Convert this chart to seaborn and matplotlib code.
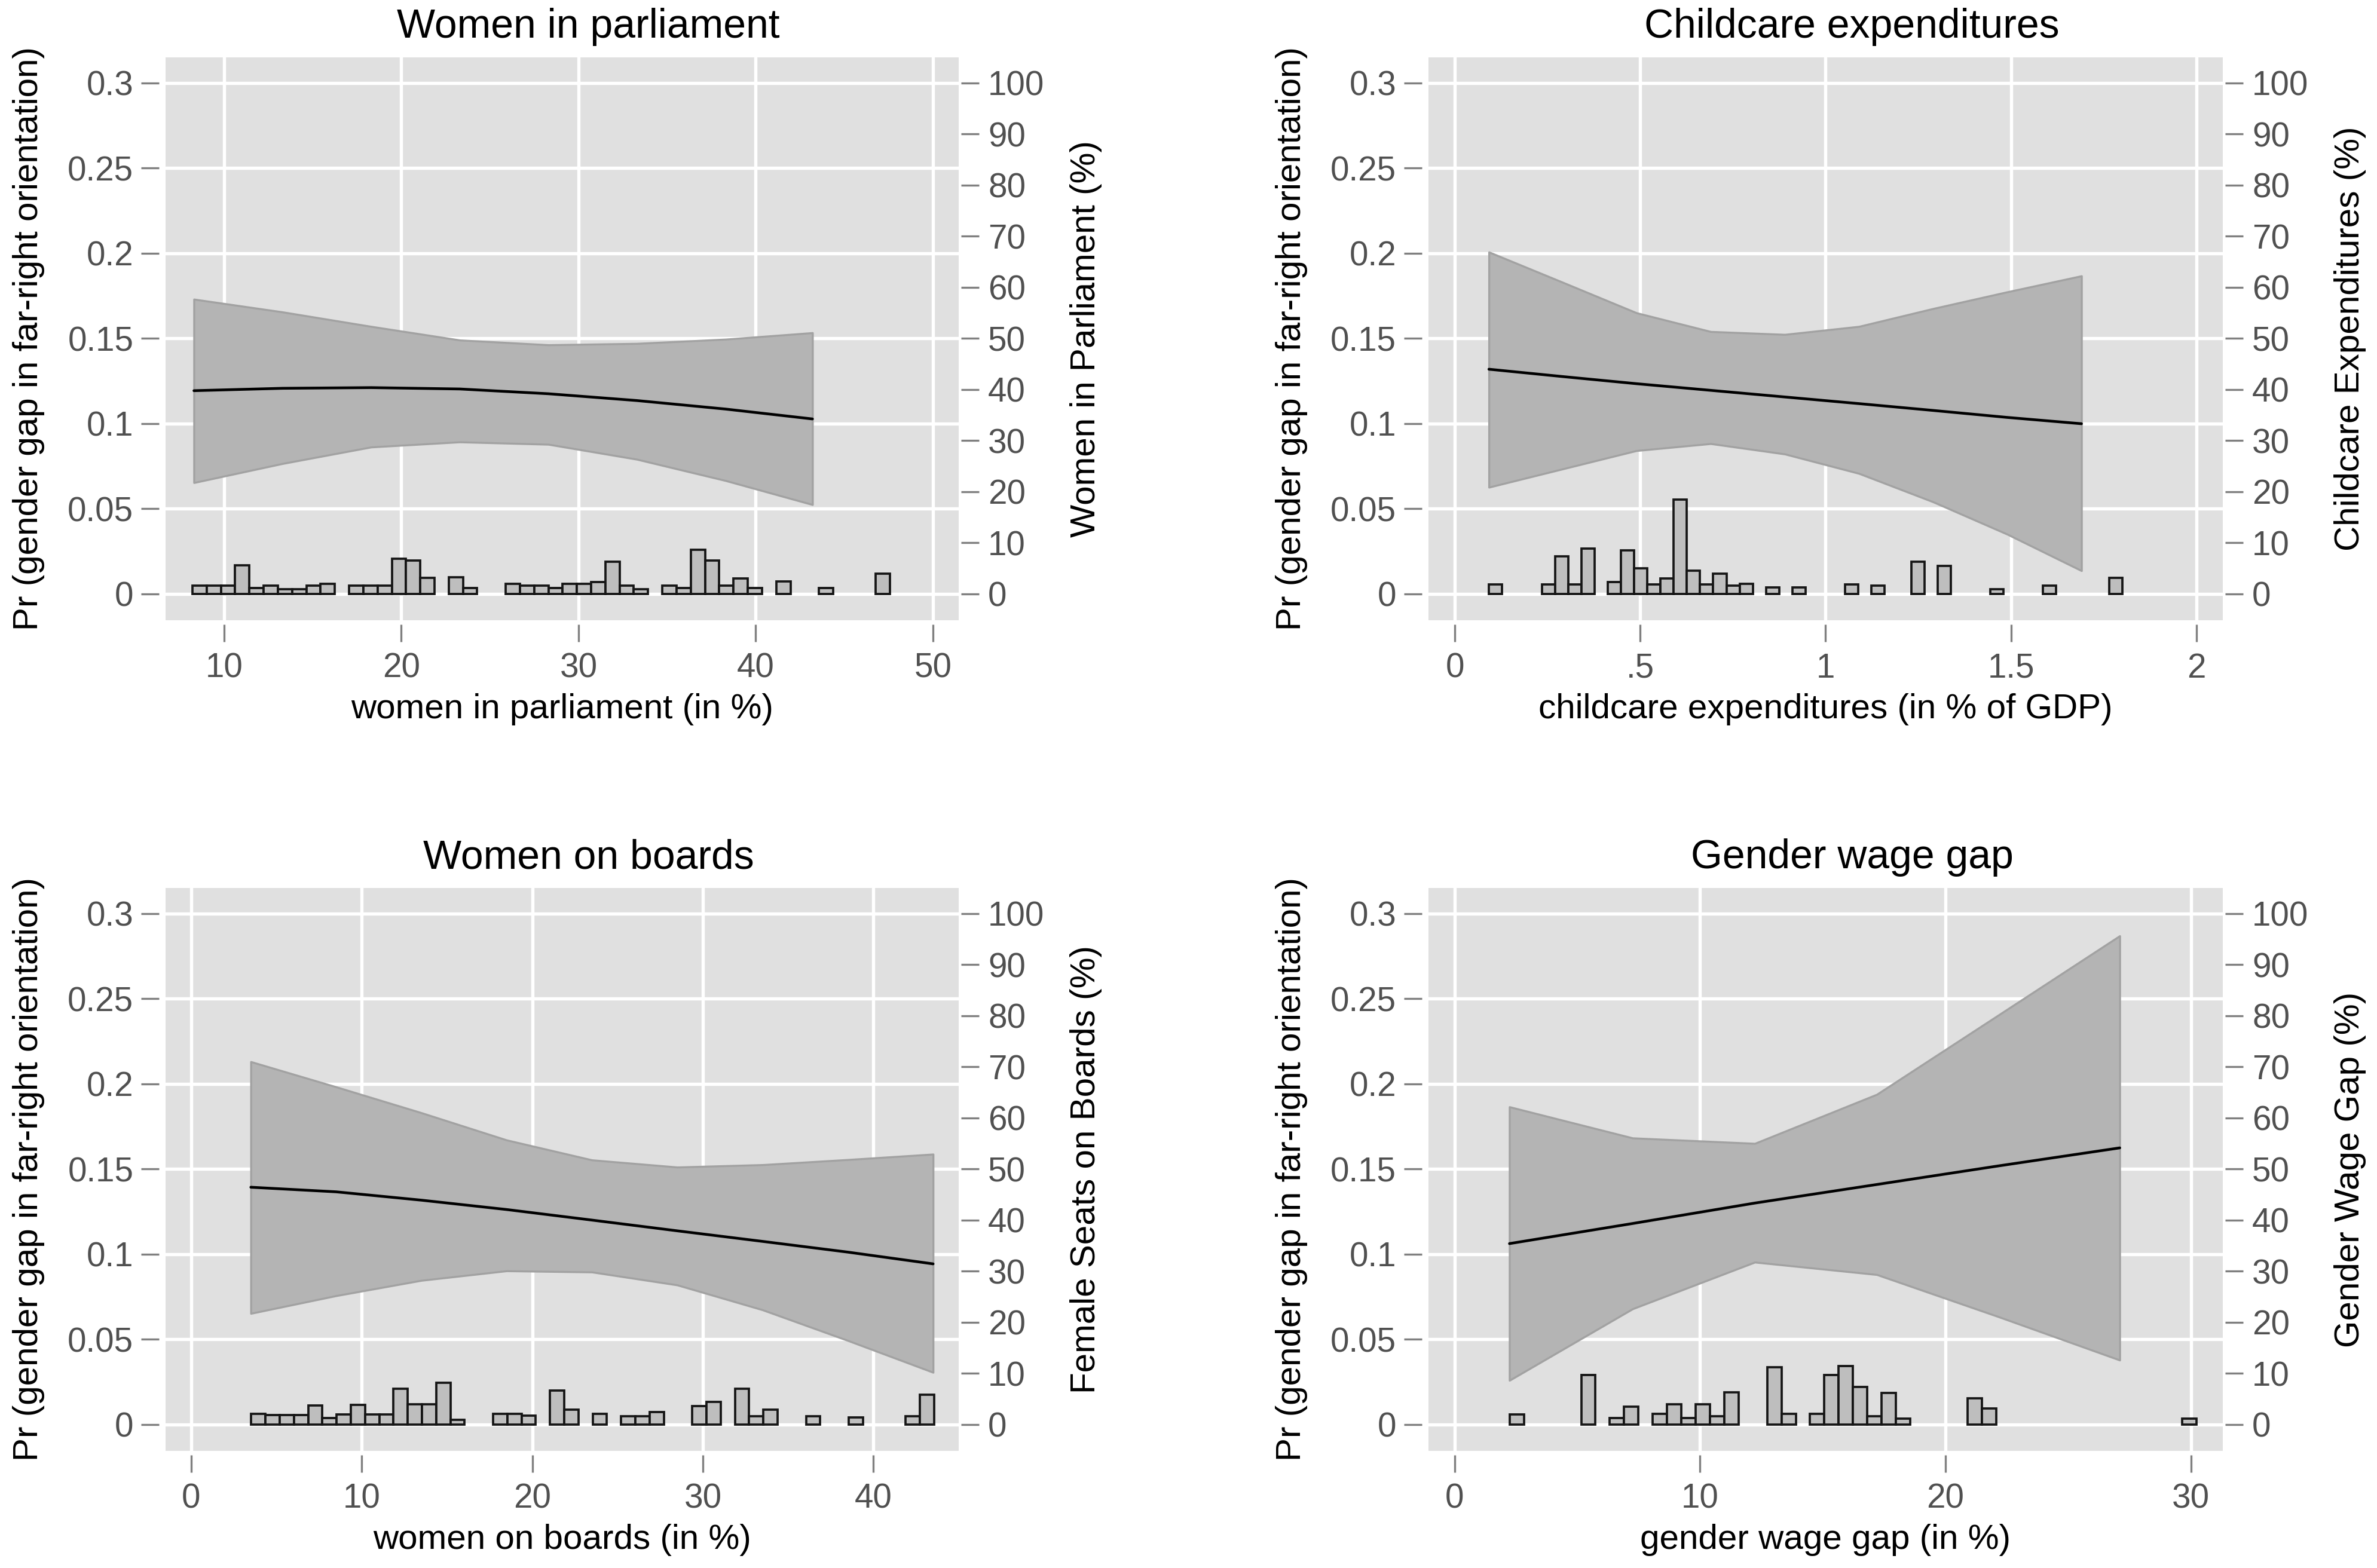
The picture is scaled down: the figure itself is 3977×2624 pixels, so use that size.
import matplotlib
matplotlib.use("Agg")
import matplotlib.pyplot as plt
import seaborn as sns

sns.set_style("white")
plt.rcParams['font.family'] = ['Liberation Sans', 'DejaVu Sans']

# ---------------- data ----------------
# women in parliament
parl_x = [8.3, 13.3, 18.3, 23.3, 28.3, 33.3, 38.3, 43.2]
parl_fit = [0.1193, 0.1207, 0.1211, 0.1203, 0.1175, 0.1135, 0.1085, 0.1027]
parl_lo = [0.0653, 0.0765, 0.0862, 0.0892, 0.0878, 0.0790, 0.0665, 0.0524]
parl_hi = [0.1730, 0.1655, 0.1570, 0.1490, 0.1462, 0.1470, 0.1495, 0.1533]
parl_bins = [8.62, 9.42, 10.23, 11.02, 11.83, 12.61, 13.43, 14.21, 15.02, 15.81,
             17.43, 18.24, 19.06, 19.87, 20.68, 21.5, 23.09, 23.88,
             26.3, 27.1, 27.92, 28.72, 29.53, 30.33, 31.13, 31.94, 32.76, 33.56,
             35.17, 35.98, 36.79, 37.6, 38.42, 39.22, 40.01, 41.55, 43.96, 47.18]
parl_pct = [1.56, 1.56, 1.56, 5.6, 1.17, 1.56, 0.86, 0.86, 1.56, 2.0,
            1.56, 1.56, 1.56, 6.9, 6.5, 3.1, 3.2, 1.17,
            1.95, 1.56, 1.56, 1.17, 1.95, 1.95, 2.34, 6.25, 1.56, 0.86,
            1.56, 1.17, 8.67, 6.5, 1.56, 3.0, 1.17, 2.4, 1.17, 3.9]
parl_bw = 0.803

# childcare expenditures
child_x = [0.092, 0.29, 0.49, 0.69, 0.89, 1.09, 1.29, 1.49, 1.69]
child_fit = [0.1319, 0.1276, 0.1234, 0.1195, 0.1156, 0.1117, 0.1077, 0.1036, 0.0999]
child_lo = [0.0626, 0.0733, 0.0841, 0.0882, 0.0821, 0.0707, 0.0540, 0.0350, 0.0136]
child_hi = [0.2007, 0.1830, 0.1650, 0.1540, 0.1523, 0.1570, 0.1675, 0.1773, 0.1867]
child_bins = [0.110, 0.252, 0.288, 0.322, 0.357, 0.429, 0.464, 0.499, 0.535, 0.571,
              0.607, 0.644, 0.679, 0.714, 0.748, 0.784, 0.856, 0.929, 1.070, 1.141,
              1.248, 1.318, 1.460, 1.601, 1.782]
child_pct = [1.9, 1.9, 7.3, 1.9, 8.86, 2.34, 8.47, 4.96, 1.9, 3.0,
             18.4, 4.57, 1.9, 3.9, 1.56, 1.95, 1.25, 1.25, 1.9, 1.56,
             6.25, 5.46, 0.86, 1.56, 3.1]
child_bw = 0.03555

# women on boards
boards_x = [3.5, 8.5, 13.5, 18.5, 23.5, 28.5, 33.5, 38.5, 43.5]
boards_fit = [0.1393, 0.1366, 0.1317, 0.1262, 0.1200, 0.1137, 0.1075, 0.1012, 0.0943]
boards_lo = [0.0652, 0.0756, 0.0846, 0.0902, 0.0895, 0.0819, 0.0673, 0.0493, 0.0306]
boards_hi = [0.2130, 0.1982, 0.1830, 0.1670, 0.1553, 0.1511, 0.1525, 0.1555, 0.1587]
boards_bins = [3.94, 4.77, 5.6, 6.44, 7.28, 8.11, 8.94, 9.79, 10.62, 11.45,
               12.3, 13.11, 13.96, 14.8, 15.62, 18.1, 18.94, 19.79, 21.45, 22.28,
               23.96, 25.62, 26.47, 27.28, 29.79, 30.63, 32.3, 33.14, 33.96, 36.47,
               38.97, 42.3, 43.14]
boards_pct = [2.03, 1.83, 1.83, 1.83, 3.67, 1.25, 1.95, 3.79, 1.95, 1.95,
              7.03, 3.9, 3.9, 8.2, 0.94, 2.03, 2.03, 1.72, 6.7, 2.9,
              2.03, 1.64, 1.64, 2.42, 3.6, 4.37, 7.03, 1.56, 2.9, 1.64,
              1.33, 1.64, 5.85]
boards_bw = 0.834

# gender wage gap
wage_x = [2.23, 7.25, 12.23, 17.2, 22.15, 27.1]
wage_fit = [0.1062, 0.1180, 0.1300, 0.1409, 0.1518, 0.1624]
wage_lo = [0.0259, 0.0679, 0.0953, 0.0880, 0.0633, 0.0378]
wage_hi = [0.1865, 0.1682, 0.1650, 0.1938, 0.2403, 0.2869]
wage_bins = [2.53, 5.46, 6.6, 7.18, 8.35, 8.94, 9.53, 10.12, 10.7, 11.29,
             13.01, 13.6, 14.73, 15.32, 15.91, 16.5, 17.08, 17.67, 18.26,
             21.2, 21.76, 29.93]
wage_pct = [1.95, 9.68, 1.25, 3.43, 2.03, 3.9, 1.25, 3.9, 1.64, 6.32,
            11.24, 2.03, 2.03, 9.68, 11.4, 7.34, 1.56, 6.17, 1.17,
            5.15, 3.12, 1.17]
wage_bw = 0.583

y_ticks = [0, 0.05, 0.1, 0.15, 0.2, 0.25, 0.3]
y_ticklabels = ['0', '0.05', '0.1', '0.15', '0.2', '0.25', '0.3']
pct_ticks = list(range(0, 101, 10))

# ---------------- figure ----------------
W, H, DPI = 3977, 2624, 300
fig = plt.figure(figsize=(W / DPI, H / DPI), dpi=DPI)

BG = '#e0e0e0'
TICKCOL = '#808080'
LABCOL = '#505050'
YLIM = (-0.0155, 0.315)


def draw_panel(box, xlim, xticks, xticklabels, title, xlabel, rlabel,
               x, fit, lo, hi, bins, pct, bw):
    l, t, r, b = box
    ax = fig.add_axes([l / W, 1 - b / H, (r - l) / W, (b - t) / H])
    ax.set_facecolor(BG)
    ax.grid(True, color='white', lw=1.3)
    ax.set_axisbelow(True)
    for s in ax.spines.values():
        s.set_visible(False)
    ax.spines['left'].set_position(('outward', 2.6))
    ax.spines['bottom'].set_position(('outward', 1.7))

    # confidence band + fitted line
    ax.fill_between(x, lo, hi, color='#b4b4b4', edgecolor='#a2a2a2', lw=0.8, zorder=2)
    sns.lineplot(x=x, y=fit, ax=ax, color='black', lw=1.1, zorder=3)

    ax.set_xlim(*xlim)
    ax.set_ylim(*YLIM)
    ax.set_xticks(xticks)
    ax.set_xticklabels(xticklabels)
    ax.set_yticks(y_ticks)
    ax.set_yticklabels(y_ticklabels)
    ax.tick_params(axis='y', direction='out', length=7.2, width=0.8, color=TICKCOL,
                   pad=3.1, labelsize=13.6, labelcolor=LABCOL, left=True)
    ax.tick_params(axis='x', direction='out', length=7.0, width=0.8, color=TICKCOL,
                   pad=4.2, labelsize=13.6, labelcolor=LABCOL, bottom=True)
    ax.set(xlabel='', ylabel='')

    # histogram of the moderator on the right axis
    ax2 = ax.twinx()
    sns.histplot(x=bins, weights=pct, binwidth=bw,
                 binrange=(bins[0] - bw / 2, bins[-1] + bw / 2),
                 ax=ax2, color='#bebebe', edgecolor='#151515', linewidth=0.9,
                 alpha=1, zorder=4)
    # empty bins would otherwise leave an outline along the baseline
    for p in ax2.patches:
        if p.get_height() <= 0:
            p.set_visible(False)
    for s in ax2.spines.values():
        s.set_visible(False)
    ax2.spines['right'].set_position(('outward', 1.0))
    ax2.set_ylim(YLIM[0] / 0.3 * 100, YLIM[1] / 0.3 * 100)
    ax2.set_yticks(pct_ticks)
    ax2.tick_params(axis='y', direction='out', length=7.2, width=0.8, color=TICKCOL,
                    pad=3.6, labelsize=13.6, labelcolor=LABCOL, right=True)
    ax2.set(xlabel='', ylabel='')
    ax2.set_xlim(*xlim)
    ax2.grid(False)

    cx = (l + r) / 2
    cy = (t + b) / 2
    fig.text((cx + 44) / W, 1 - (t - 33) / H, title, ha='center', va='baseline',
             fontsize=16.3, color='black')
    fig.text(cx / W, 1 - (b + 149) / H, xlabel, ha='center', va='center',
             fontsize=14, color='black')
    fig.text((l - 229) / W, 1 - cy / H, 'Pr (gender gap in far-right orientation)',
             rotation=90, ha='center', va='center', fontsize=14, color='black')
    fig.text((r + 213) / W, 1 - cy / H, rlabel, rotation=90,
             ha='center', va='center', fontsize=14, color='black')


draw_panel((277, 96, 1604, 1038), (6.7, 51.45), [10, 20, 30, 40, 50],
           ['10', '20', '30', '40', '50'], 'Women in parliament',
           'women in parliament (in %)', 'Women in Parliament (%)',
           parl_x, parl_fit, parl_lo, parl_hi, parl_bins, parl_pct, parl_bw)

draw_panel((2390, 96, 3719, 1038), (-0.071, 2.071), [0, 0.5, 1, 1.5, 2],
           ['0', '.5', '1', '1.5', '2'], 'Childcare expenditures',
           'childcare expenditures (in % of GDP)', 'Childcare Expenditures (%)',
           child_x, child_fit, child_lo, child_hi, child_bins, child_pct, child_bw)

draw_panel((277, 1486, 1604, 2428), (-1.5, 45.0), [0, 10, 20, 30, 40],
           ['0', '10', '20', '30', '40'], 'Women on boards',
           'women on boards (in %)', 'Female Seats on Boards (%)',
           boards_x, boards_fit, boards_lo, boards_hi, boards_bins, boards_pct, boards_bw)

draw_panel((2390, 1486, 3719, 2428), (-1.07, 31.3), [0, 10, 20, 30],
           ['0', '10', '20', '30'], 'Gender wage gap',
           'gender wage gap (in %)', 'Gender Wage Gap (%)',
           wage_x, wage_fit, wage_lo, wage_hi, wage_bins, wage_pct, wage_bw)

fig.savefig('out.png', dpi=DPI, facecolor='white')
